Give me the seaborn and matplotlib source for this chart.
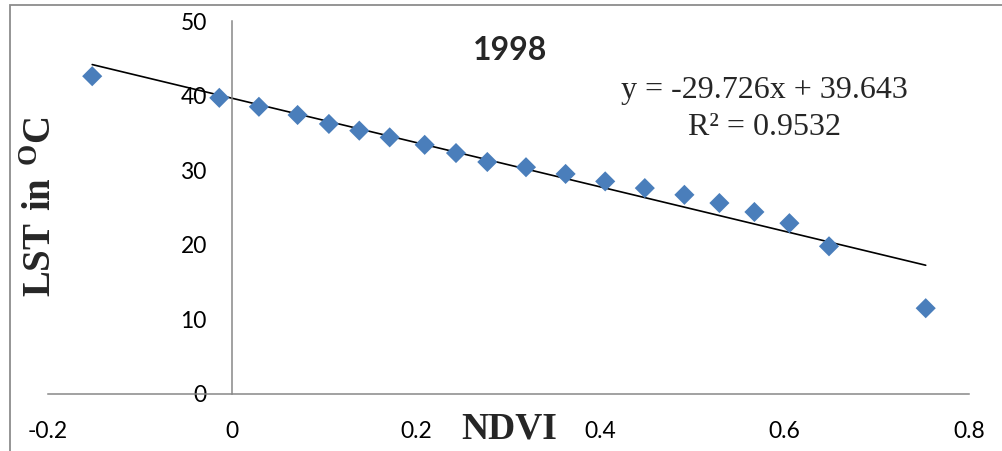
import numpy as np
import pandas as pd
import matplotlib
matplotlib.use("Agg")
import matplotlib.pyplot as plt
import matplotlib.patches as mpatches
import seaborn as sns

# ---- data ----
ndvi = [-0.152, -0.014, 0.029, 0.071, 0.105, 0.138, 0.171, 0.209, 0.243, 0.277,
        0.319, 0.362, 0.405, 0.448, 0.491, 0.529, 0.567, 0.605, 0.648, 0.753]
lst = [42.6, 39.7, 38.5, 37.4, 36.2, 35.3, 34.4, 33.4, 32.3, 31.1,
       30.4, 29.5, 28.5, 27.6, 26.7, 25.6, 24.4, 22.9, 19.8, 11.5]
slope = -29.726
intercept = 39.643
r_squared = 0.9532
title_text = "1998"
x_ticks = [-0.2, 0, 0.2, 0.4, 0.6, 0.8]
x_tick_labels = ["-0.2", "0", "0.2", "0.4", "0.6", "0.8"]
y_ticks = [0, 10, 20, 30, 40, 50]
y_tick_labels = ["0", "10", "20", "30", "40", "50"]

df = pd.DataFrame({"NDVI": ndvi, "LST": lst})
trend_x = [min(ndvi), max(ndvi)]
trend_df = pd.DataFrame({"NDVI": trend_x,
                         "LST": [slope * v + intercept for v in trend_x]})

sns.set_theme(style="white")
plt.rcParams["font.family"] = ["Lato", "DejaVu Sans"]
plt.rcParams["mathtext.fontset"] = "custom"
plt.rcParams["mathtext.rm"] = "Liberation Serif"
plt.rcParams["mathtext.bf"] = "Liberation Serif:bold"

W, H = 1002, 451
fig = plt.figure(figsize=(W / 100, H / 100), dpi=100)
fig.patch.set_facecolor("white")
ax = fig.add_axes([48 / W, 1 - 394 / H, (969 - 48) / W, (394 - 21) / H])

sns.scatterplot(data=df, x="NDVI", y="LST", ax=ax, marker="D", s=105,
                color="#4A7EBB", edgecolor="none", linewidth=0, zorder=3)
sns.lineplot(data=trend_df, x="NDVI", y="LST", ax=ax, color="black",
             linewidth=1.2, zorder=2)

ax.set_xlim(-0.2, 0.8)
ax.set_ylim(0, 50)
ax.set_xticks(x_ticks)
ax.set_xticklabels(x_tick_labels)
ax.set_yticks(y_ticks)
ax.set_yticklabels(y_tick_labels)

gray = "#878787"
for side in ["top", "right"]:
    ax.spines[side].set_visible(False)
ax.spines["left"].set_position(("data", 0))
ax.spines["bottom"].set_position(("data", 0))
for side in ["left", "bottom"]:
    ax.spines[side].set_color(gray)
    ax.spines[side].set_linewidth(1.1)
ax.tick_params(axis="both", direction="out", length=5.8, width=1.1,
               color=gray, labelsize=16.5, labelcolor="black")
ax.tick_params(axis="x", pad=13.5)
ax.tick_params(axis="y", pad=12.5)
ax.grid(False)
ax.set_facecolor("none")

ax.set_xlabel("NDVI", fontsize=27, fontweight="bold",
              family="Liberation Serif", va="center", ha="center")
ax.xaxis.set_label_coords((509 - 48) / (969 - 48), (394 - 429) / (394 - 21))
ax.set_ylabel(r"$\mathbf{LST\ in\ {}^{O}C}$", fontsize=28,
              va="center", ha="center")
ax.yaxis.set_label_coords((40 - 48) / (969 - 48), (394 - 207) / (394 - 21))

fig.text(510 / W, 1 - 50 / H, title_text, ha="center", va="center",
         fontsize=23, fontweight="bold", family="Lato")
fig.text(764 / W, 1 - 98 / H, f"y = {slope}x + {intercept}", ha="center",
         va="baseline", fontsize=23, family="Liberation Serif")
fig.text(764 / W, 1 - 135 / H, f"R\u00b2 = {r_squared}", ha="center",
         va="baseline", fontsize=23, family="Liberation Serif")

border = mpatches.Rectangle((10 / W, -0.2), 1.2, 1.2 - 5 / H,
                            transform=fig.transFigure, fill=False,
                            edgecolor="#8c8c8c", linewidth=1.3)
fig.patches.append(border)

fig.savefig("out.png", dpi=100, facecolor="white")
